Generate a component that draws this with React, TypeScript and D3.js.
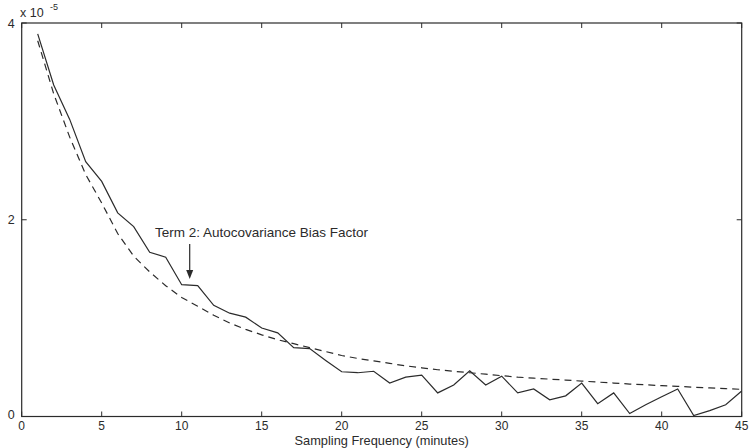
import React from "react";
import * as d3 from "d3";

const samplingMinutes: number[] = d3.range(1, 46);
// Term 2 (solid), units of 1e-5
const term2: number[] = [
  3.89, 3.37, 3.02, 2.59, 2.39, 2.07, 1.93, 1.67, 1.62, 1.34,
  1.33, 1.13, 1.05, 1.01, 0.9, 0.85, 0.7, 0.69, 0.57, 0.455,
  0.445, 0.46, 0.34, 0.4, 0.42, 0.24, 0.32, 0.465, 0.32, 0.41,
  0.24, 0.28, 0.17, 0.21, 0.34, 0.13, 0.24, 0.03, 0.12, 0.2,
  0.28, 0.01, 0.06, 0.12, 0.26,
];
// Smooth comparison curve (dashed), units of 1e-5
const dashedCurve: number[] = [
  3.82, 3.28, 2.84, 2.46, 2.17, 1.86, 1.63, 1.47, 1.33, 1.21,
  1.12, 1.03, 0.95, 0.886, 0.83, 0.78, 0.74, 0.7, 0.66, 0.62,
  0.59, 0.565, 0.54, 0.515, 0.495, 0.475, 0.46, 0.445, 0.43, 0.415,
  0.4, 0.39, 0.38, 0.37, 0.36, 0.35, 0.34, 0.33, 0.322, 0.314,
  0.306, 0.298, 0.29, 0.283, 0.276,
];
const xTicks: number[] = [0, 5, 10, 15, 20, 25, 30, 35, 40, 45];
const yTicks: number[] = [0, 2, 4];
const xLabel = "Sampling Frequency (minutes)";
const annotation = "Term 2: Autocovariance Bias Factor";
const annotationX = 10.5;

const W = 749;
const H = 448;
const left = 21.7;
const right = 741.7;
const top = 23;
const bottom = 416.5;

export default function App() {
  const x = d3.scaleLinear().domain([0, 45]).range([left, right]);
  const y = d3.scaleLinear().domain([0, 4]).range([bottom, top]);
  const line = d3
    .line<number>()
    .x((_, i) => x(samplingMinutes[i]))
    .y((d) => y(d));
  const ink = "#2b2b2b";
  const font = "'Liberation Sans', Arial, Helvetica, sans-serif";
  const tl = 5;
  const ax = x(annotationX);
  return (
    <svg
      width={W}
      height={H}
      style={{ position: "absolute", left: 0, top: 0, background: "#fff" }}
      fontFamily={font}
    >
      <rect x={0} y={0} width={W} height={H} fill="#fff" />
      <rect
        x={left}
        y={top}
        width={right - left}
        height={bottom - top}
        fill="none"
        stroke={ink}
        strokeWidth={1.2}
      />
      {xTicks.map((t) => (
        <g key={"x" + t}>
          <line x1={x(t)} x2={x(t)} y1={bottom} y2={bottom - tl} stroke={ink} />
          <line x1={x(t)} x2={x(t)} y1={top} y2={top + tl} stroke={ink} />
          <text
            x={x(t)}
            y={429.5}
            fontSize={12}
            textAnchor="middle"
            fill={ink}
          >
            {t}
          </text>
        </g>
      ))}
      {yTicks.map((t) => (
        <g key={"y" + t}>
          <line x1={left} x2={left + tl} y1={y(t)} y2={y(t)} stroke={ink} />
          <line x1={right} x2={right - tl} y1={y(t)} y2={y(t)} stroke={ink} />
          <text
            x={left - 7}
            y={y(t) + (t === 0 ? 2 : 4.5)}
            fontSize={12.5}
            textAnchor="end"
            fill={ink}
          >
            {t}
          </text>
        </g>
      ))}
      <text x={20} y={17} fontSize={12.5} fill={ink}>
        x 10
      </text>
      <text x={50} y={10} fontSize={9} fill={ink}>
        -5
      </text>
      <text
        x={(left + right) / 2}
        y={445}
        fontSize={12.8}
        textAnchor="middle"
        fill={ink}
      >
        {xLabel}
      </text>
      <path
        d={line(dashedCurve) || ""}
        fill="none"
        stroke={ink}
        strokeWidth={1.2}
        strokeDasharray="7,5"
      />
      <path d={line(term2) || ""} fill="none" stroke={ink} strokeWidth={1.2} />
      <text x={155} y={237} fontSize={13.5} fill={ink}>
        {annotation}
      </text>
      <line x1={ax} x2={ax} y1={244} y2={272} stroke={ink} strokeWidth={1.2} />
      <path
        d={`M${ax - 3.5},${270} L${ax + 3.5},${270} L${ax},${279} Z`}
        fill={ink}
      />
    </svg>
  );
}
